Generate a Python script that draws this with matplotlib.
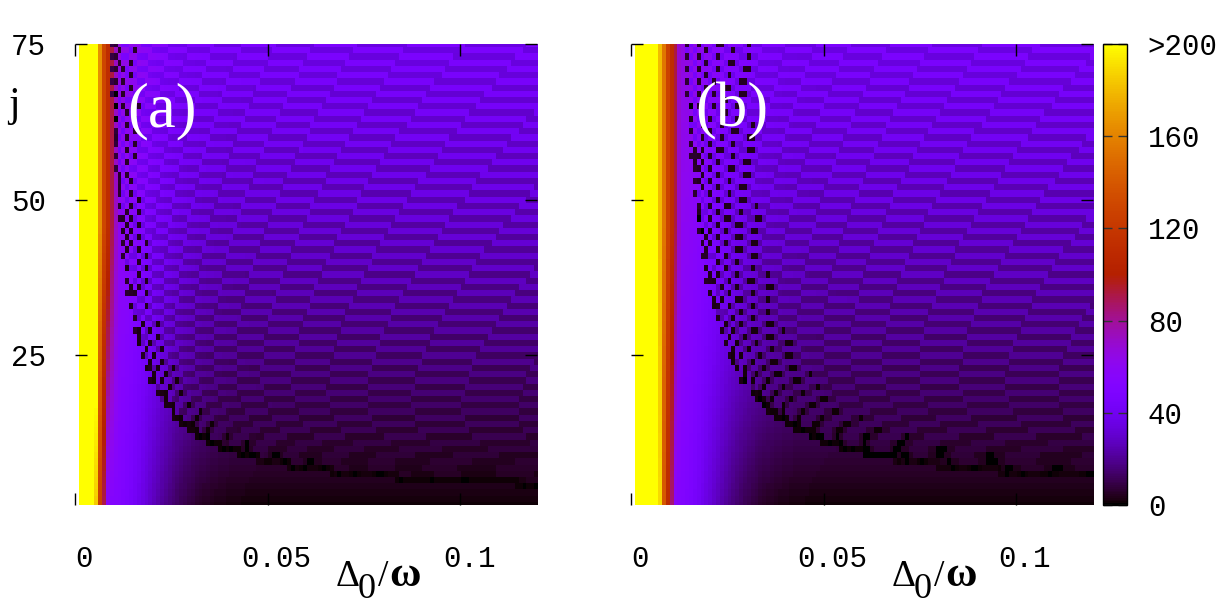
import numpy as np
import matplotlib
matplotlib.use("Agg")
import matplotlib.pyplot as plt
from matplotlib.transforms import ScaledTranslation

W, H, DPI = 1231, 614, 100

# ---- grid of the two maps -------------------------------------------------
dx = 0.001
x_cells = np.arange(1, 121) * dx          # Delta_0/omega, left edge of each cell
j_rows = np.arange(1, 76)                 # j

x_ticks = [0, 0.05, 0.1]
x_tick_labels = ["0", "0.05", "0.1"]
j_ticks = [25, 50, 75]
cb_ticks = [0, 40, 80, 120, 160, 200]
cb_tick_labels = ["0", "40", "80", "120", "160", ">200"]
panel_tags = ["(a)", "(b)"]

# ---- values -----------------------------------------------------------------
# bright strip at small Delta_0/omega, one value per column (bottom rows / top rows)
strip_bottom_a = [260, 260, 260, 260, 185, 125, 90, 55, 53, 52]
strip_top_a = [260, 260, 260, 260, 225, 165, 130, 112, 92, 72]
strip_bottom_b = [260, 260, 260, 260, 260, 260, 190, 140, 110, 85, 55, 52]
strip_top_b = [260, 260, 260, 260, 260, 260, 180, 155, 128, 112, 92, 70]

# level next to the strip (j = 1 and j = 75)
plateau_level = [52, 66]
# level far to the right, read at a few j
floor_j = [1, 5, 13, 25, 50, 75]
floor_val = [1.0, 4.4, 11, 20, 36, 48]

# lower edge of the chequered zone, x_env = c / (j - j0) + d
edge_a = [0.272, 1.5, 0.0058]
edge_b = [0.39, 1.5, 0.0089]
# how far (relative to x_env) the black dots reach, at j = 1 and j = 75
black_reach_a = [0.25, 0.7]
black_reach_b = [0.45, 1.2]

OMEGA, POWER, KAPPA = 123.0, 0.35, 0.27


def make_map(strip_bottom, strip_top, edge, black_reach):
    X, J = np.meshgrid(x_cells, j_rows)
    n = len(strip_bottom)

    # smooth background
    floor = np.interp(J, floor_j, floor_val)
    level = plateau_level[0] + (plateau_level[1] - plateau_level[0]) * J / 75.0
    decay = np.exp(-(np.clip(X - x_cells[n - 1], 0, None) / 0.0125) ** 1.6)
    V = floor + (level - floor) * decay

    wj = np.clip((j_rows - 1) / 45.0, 0, 1)[:, None]
    V[:, :n] = np.array(strip_bottom)[None, :] * (1 - wj) + np.array(strip_top)[None, :] * wj

    # chequered zone
    c, j0, d = edge
    with np.errstate(divide="ignore", invalid="ignore"):
        xe = np.where(J > j0 + 0.4, c / (J - j0) + d, np.inf)
        xe_prev = np.where(J - 1 > j0 + 0.4, c / (J - 1 - j0) + d, np.inf)
    cx = X + dx / 2
    inside = cx > xe
    theta = OMEGA * np.clip(cx - xe, 0, None) ** POWER - KAPPA * J
    wave = np.cos(np.pi * J + theta)
    depth = 0.42 - 0.15 * J / 75.0
    V = np.where(inside & (wave > 0), V * (1 - depth), V)

    with np.errstate(invalid="ignore"):
        rel = (cx - xe) / xe
    reach = black_reach[0] + (black_reach[1] - black_reach[0]) * J / 75.0
    black = inside & (wave > 0.8) & (rel < reach)
    V = np.where(black, V * 0.12, V)

    # the lowest curve of dark cells
    run = xe_prev - xe
    stair = (X + dx > xe) & (X < xe_prev) & ((run > 1.5 * dx) | (J % 2 == 1))
    stair_f = np.where(J < 9, 0.35, 0.1)
    V = np.where(stair & np.isfinite(xe), V * stair_f, V)
    return V


maps = [make_map(strip_bottom_a, strip_top_a, edge_a, black_reach_a),
        make_map(strip_bottom_b, strip_top_b, edge_b, black_reach_b)]

plt.rcParams["font.family"] = ["Liberation Mono", "DejaVu Sans Mono"]

fig = plt.figure(figsize=(W / DPI, H / DPI), dpi=DPI)

ax_w = 462 / W
ax_h = 461 / H
ax_b = 1 - 505 / H
lefts = [75 / W, 631 / W]
label_shift = ScaledTranslation(9 / DPI, 0, fig.dpi_scale_trans)

for k, (left, V) in enumerate(zip(lefts, maps)):
    ax = fig.add_axes([left, ax_b, ax_w, ax_h])
    im = ax.imshow(V, origin="lower", aspect="auto", cmap="gnuplot",
                   vmin=0, vmax=200, interpolation="nearest",
                   extent=[x_cells[0], x_cells[-1] + dx, j_rows[0] - 0.5, j_rows[-1] + 0.5])
    ax.set_xlim(0, 0.12)
    ax.set_ylim(1, 75)
    for s in ax.spines.values():
        s.set_visible(False)
    ax.set_xticks(x_ticks)
    ax.set_xticklabels(x_tick_labels)
    ax.set_yticks(j_ticks)
    ax.set_yticklabels([str(t) if k == 0 else "" for t in j_ticks])
    ax.tick_params(direction="in", length=8.6, width=1.0, top=True, right=True,
                   labelsize=21, color="black")
    ax.tick_params(axis="x", pad=29)
    ax.tick_params(axis="y", pad=21)
    for lab in ax.get_xticklabels():
        lab.set_transform(lab.get_transform() + label_shift)

    ax.text(0.0137 if k == 0 else 0.0166, 64.2, panel_tags[k], color="white",
            family="Liberation Serif", fontsize=45, ha="left", va="center")

    # x label: Delta_0/omega
    off = left * W - 75
    fig.text((336 + off) / W, 1 - 586 / H, "Δ", family="Liberation Serif",
             fontsize=27, ha="left", va="baseline")
    fig.text((358 + off) / W, 1 - 598 / H, "0", family="Liberation Serif",
             fontsize=26, ha="left", va="baseline")
    fig.text((378 + off) / W, 1 - 586 / H, "/", family="Liberation Serif",
             fontsize=27, ha="left", va="baseline")
    fig.text((389 + off) / W, 1 - 586 / H, "ω", family="Liberation Serif",
             fontsize=31, fontweight="bold", ha="left", va="baseline")

fig.text(14 / W, 1 - 106 / H, "j", family="Liberation Serif", fontsize=30,
         ha="center", va="center")

cax = fig.add_axes([1103 / W, ax_b, 24 / W, ax_h])
cb = fig.colorbar(im, cax=cax, ticks=cb_ticks)
cb.ax.set_yticklabels(cb_tick_labels)
cb.outline.set_linewidth(1.0)
cax.tick_params(direction="in", length=6.5, width=1.0, left=True, right=True,
                labelsize=21, pad=15, color="#333333")

fig.savefig("out.png", dpi=DPI)
